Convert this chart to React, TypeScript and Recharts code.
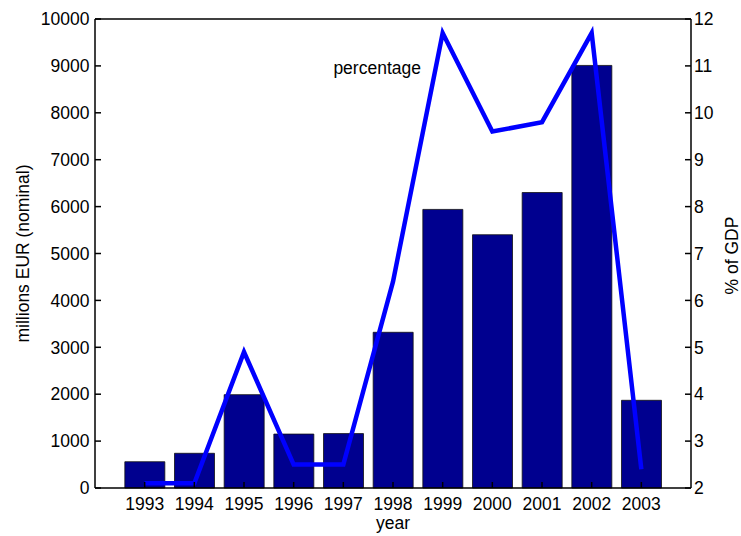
import React from 'react'
import {
  ComposedChart,
  Bar,
  Line,
  XAxis,
  YAxis,
  Label,
  ReferenceDot,
} from 'recharts'

const years = [1993, 1994, 1995, 1996, 1997, 1998, 1999, 2000, 2001, 2002, 2003]
const millionsEur = [560, 740, 1990, 1150, 1160, 3320, 5940, 5400, 6300, 9010, 1870]
const pctGdp = [2.1, 2.1, 4.9, 2.5, 2.5, 6.4, 11.7, 9.6, 9.8, 11.7, 2.4]

const leftTicks = [0, 1000, 2000, 3000, 4000, 5000, 6000, 7000, 8000, 9000, 10000]
const rightTicks = [2, 3, 4, 5, 6, 7, 8, 9, 10, 11, 12]

const data = years.map((year, i) => ({
  year,
  eur: millionsEur[i],
  pct: pctGdp[i],
}))

const FONT = '"Liberation Sans", Arial, Helvetica, sans-serif'
const FS = 17.5
const tickStyle = { fill: '#000', fontSize: FS, fontFamily: FONT }
const axisLine = { stroke: '#000', strokeWidth: 1.5 }

const App: React.FC = () => {
  return (
    <div style={{ position: 'absolute', left: 0, top: 0 }}>
      <ComposedChart
        width={741}
        height={536}
        data={data}
        margin={{ top: 0, right: 0, bottom: 0, left: 0 }}
        style={{ fontFamily: FONT }}
      >
        <XAxis
          dataKey="year"
          type="number"
          domain={[1992, 2004]}
          ticks={years}
          height={48}
          tickSize={-6}
          tickMargin={16}
          tick={tickStyle}
          axisLine={axisLine}
          tickLine={axisLine}
          interval={0}
        >
          <Label
            value="year"
            position="insideBottom"
            offset={7}
            fill="#000"
            fontSize={FS}
            fontFamily={FONT}
          />
        </XAxis>
        <XAxis
          xAxisId="top"
          dataKey="year"
          type="number"
          orientation="top"
          domain={[1992, 2004]}
          ticks={years}
          height={19}
          tickSize={-6}
          tick={false}
          axisLine={axisLine}
          tickLine={axisLine}
          interval={0}
        />
        <YAxis
          yAxisId="left"
          width={95}
          domain={[0, 10000]}
          ticks={leftTicks}
          tickSize={-6}
          tickMargin={11.5}
          tick={tickStyle}
          axisLine={axisLine}
          tickLine={axisLine}
          interval={0}
        >
          <Label
            content={({ viewBox }: any) => {
              const x = viewBox.x + 29
              const y = viewBox.y + viewBox.height / 2
              return (
                <text
                  x={x}
                  y={y}
                  transform={`rotate(-90, ${x}, ${y})`}
                  textAnchor="middle"
                  fill="#000"
                  fontSize={FS}
                  fontFamily={FONT}
                >
                  millions EUR (nominal)
                </text>
              )
            }}
          />
        </YAxis>
        <YAxis
          yAxisId="right"
          orientation="right"
          width={50}
          domain={[2, 12]}
          ticks={rightTicks}
          tickSize={-6}
          tickMargin={9}
          tick={tickStyle}
          axisLine={axisLine}
          tickLine={axisLine}
          interval={0}
        >
          <Label
            content={({ viewBox }: any) => {
              const x = viewBox.x + 46.5
              const y = viewBox.y + viewBox.height / 2 + 2
              return (
                <text
                  x={x}
                  y={y}
                  transform={`rotate(-90, ${x}, ${y})`}
                  textAnchor="middle"
                  fill="#000"
                  fontSize={FS}
                  fontFamily={FONT}
                >
                  % of GDP
                </text>
              )
            }}
          />
        </YAxis>
        <Bar
          yAxisId="left"
          dataKey="eur"
          barSize={40}
          fill="#00008F"
          stroke="#111"
          strokeWidth={0.8}
          isAnimationActive={false}
        />
        <Line
          yAxisId="right"
          dataKey="pct"
          stroke="#0000FF"
          strokeWidth={4.5}
          dot={false}
          activeDot={false}
          type="linear"
          isAnimationActive={false}
        />
        <ReferenceDot
          yAxisId="right"
          x={1996.8}
          y={10.9}
          r={0}
          fill="none"
          stroke="none"
          ifOverflow="visible"
        >
          <Label
            content={({ viewBox }: any) => (
              <text
                x={viewBox.x}
                y={viewBox.y}
                dy="0.21em"
                fill="#000"
                fontSize={FS}
                fontFamily={FONT}
              >
                percentage
              </text>
            )}
          />
        </ReferenceDot>
      </ComposedChart>
    </div>
  )
}

export default App
